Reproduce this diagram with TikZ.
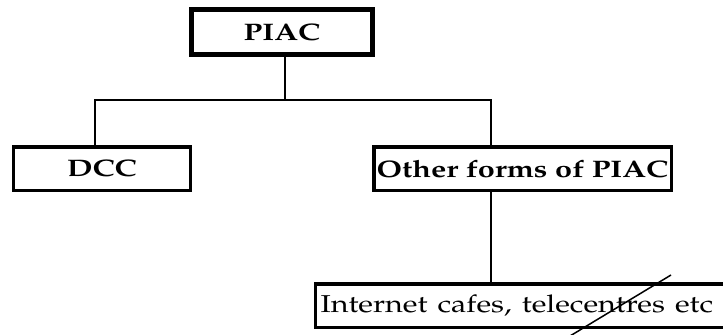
\documentclass[tikz,border=0pt]{standalone}
\usepackage[T1]{fontenc}
\usepackage{mathpazo}
\newcommand{\widetext}[2]{\scalebox{#1}[1]{#2}}
\begin{document}
\begin{tikzpicture}[x = 1bp, y = 1bp,
        every node/.style={inner sep=0pt, shape=rectangle},
        link/.style={line width=1.5bp}
]
\tikzstyle{block}= [draw, line width=3.5bp, minimum height=43.5bp, font=\fontsize{24}{28}\selectfont\bfseries]
\clip (0,0) rectangle (723,-334);
    \node[block, line width=5bp, minimum width=181bp, minimum height=45bp] (piac) at (282,-32) {\widetext{1.28}{PIAC}};
    \node[block, minimum width=176.5bp] (dcc) at (102,-168.5) {\widetext{1.28}{DCC}};
    \node[block, minimum width=297.5bp] (other) at (522.5,-168.5) {\widetext{1.28}{Other forms of PIAC}};
    \node[block, font=\fontsize{24.5}{28}\selectfont, anchor=west, minimum width=440bp, align=left, text width=430bp, inner sep=5bp] (inet) at (313.75,-305.5) {\widetext{1.25}{Internet cafes, telecentres etc}};
    \coordinate (hub) at (285,-100);
    \coordinate (cutA) at (570,-336);
    \coordinate (cutB) at (671,-275);

    \draw[link] (piac.south -| hub) -- (hub);
    \draw[link] ([xshift=-7bp]dcc.north) |- (hub) -| ([xshift=-31.5bp]other.north);
    \draw[link] ([xshift=-31.5bp]other.south) -- ([xshift=-31.5bp]other.south |- inet.north);
    \draw[link] (cutA) -- (cutB);

\end{tikzpicture}
\end{document}
